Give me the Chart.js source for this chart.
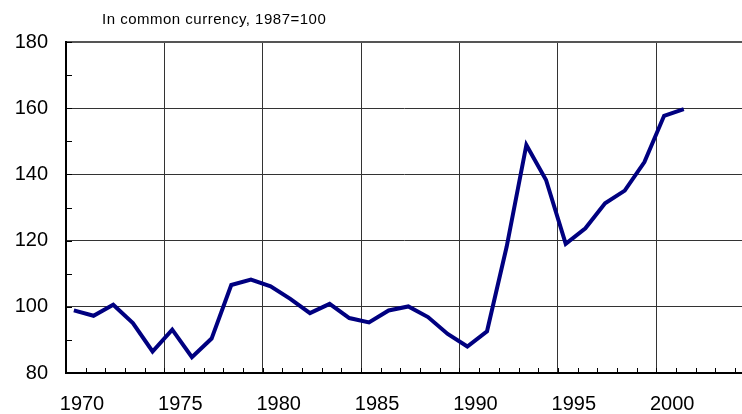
<!DOCTYPE html>
<html>
<head>
<meta charset="utf-8">
<script src="https://cdn.jsdelivr.net/npm/chart.js@4"></script>
<style>
  body { margin: 0; background: #fff; }
  #wrap { position: relative; width: 742px; height: 414px; }
  #note {
    position: absolute; left: 102px; top: 11px;
    font: 15px "Liberation Sans", Arial, sans-serif; line-height: 15px;
    letter-spacing: 0.5px; color: #000; white-space: nowrap;
  }
</style>
</head>
<body>
<div id="wrap">
  <canvas id="myChart" width="742" height="414"></canvas>
  <div id="note">In common currency, 1987=100</div>
</div>
<script>
const years = [1970, 1971, 1972, 1973, 1974, 1975, 1976, 1977, 1978, 1979,
  1980, 1981, 1982, 1983, 1984, 1985, 1986, 1987, 1988, 1989,
  1990, 1991, 1992, 1993, 1994, 1995, 1996, 1997, 1998, 1999,
  2000, 2001]
const index = [98.9, 97.3, 100.6, 95.1, 86.5, 93.1, 84.8, 90.4, 106.6, 108.2,
  106.2, 102.4, 98.1, 100.9, 96.6, 95.3, 98.9, 100.1, 96.9, 91.8,
  88.0, 92.6, 118.2, 148.9, 138.3, 119.0, 123.7, 131.3, 135.1, 143.7,
  157.7, 159.7]
const yearLabels = [1970, 1975, 1980, 1985, 1990, 1995, 2000]
const valueLabels = [80, 100, 120, 140, 160, 180]

// points sit a bit into their year, like the original
const points = years.map((y, i) => ({ x: y + 0.4, y: index[i] }))

// short inward tick marks on both axes
const innerTicks = {
  id: 'innerTicks',
  afterDraw(chart) {
    const { ctx, chartArea, scales } = chart
    ctx.save()
    ctx.strokeStyle = '#000'
    ctx.lineWidth = 1
    ctx.beginPath()
    scales.x.ticks.forEach(t => {
      const px = Math.round(scales.x.getPixelForValue(t.value)) + 0.5
      ctx.moveTo(px, chartArea.bottom)
      ctx.lineTo(px, chartArea.bottom - 5)
    })
    scales.y.ticks.forEach(t => {
      const py = Math.round(scales.y.getPixelForValue(t.value)) + 0.5
      ctx.moveTo(chartArea.left, py)
      ctx.lineTo(chartArea.left + 6, py)
    })
    ctx.stroke()
    ctx.restore()
  }
}

const font = { family: '"Liberation Sans", Arial, sans-serif', size: 20, lineHeight: 1 }

new Chart(document.getElementById('myChart'), {
  type: 'line',
  data: {
    datasets: [{
      data: points,
      borderColor: '#000080',
      borderWidth: 4,
      pointRadius: 0,
      tension: 0
    }]
  },
  options: {
    responsive: false,
    animation: false,
    layout: { padding: { top: 42, left: 14, right: 0, bottom: 0 } },
    plugins: { legend: { display: false }, tooltip: { enabled: false } },
    scales: {
      x: {
        type: 'linear',
        min: 1970,
        max: 2004.36,
        border: { color: '#000', width: 2 },
        grid: {
          drawTicks: false,
          color: c => c.tick && c.tick.value % 5 === 0 ? '#333' : 'rgba(0,0,0,0)'
        },
        ticks: {
          stepSize: 1,
          includeBounds: false,
          autoSkip: false,
          maxRotation: 0,
          padding: 21,
          labelOffset: 16,
          color: '#000',
          font,
          callback: v => yearLabels.includes(v) ? String(v) : ''
        },
        afterFit: s => {
          s.height = 41
          s.paddingLeft = 0
          s.paddingRight = 0
        }
      },
      y: {
        min: 80,
        max: 180,
        border: { color: '#000', width: 2 },
        grid: {
          drawTicks: false,
          color: c => c.tick && c.tick.value % 20 === 0 ? (c.tick.value === 180 ? '#555' : '#333') : 'rgba(0,0,0,0)',
          lineWidth: c => c.tick && c.tick.value === 180 ? 2 : 1
        },
        ticks: {
          stepSize: 10,
          autoSkip: false,
          padding: 18,
          color: '#000',
          font,
          callback: v => valueLabels.includes(v) ? String(v) : ''
        },
        afterFit: s => {
          s.width = 52
          s.paddingTop = 0
          s.paddingBottom = 0
        }
      }
    }
  },
  plugins: [innerTicks]
})
</script>
</body>
</html>
